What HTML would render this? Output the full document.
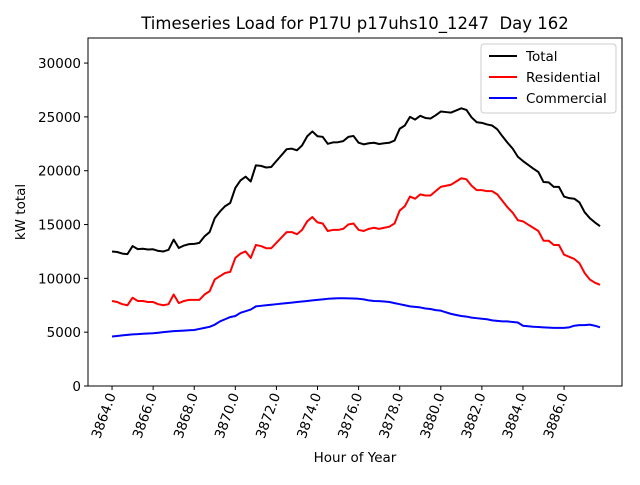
<!DOCTYPE html>
<html><head><meta charset="utf-8"><style>
body{margin:0;background:#fff;font-family:"Liberation Sans","DejaVu Sans",sans-serif;}
svg text{font-family:"DejaVu Sans","Liberation Sans",sans-serif;}
</style></head><body>
<svg id="chart" width="640" height="480" xmlns="http://www.w3.org/2000/svg">
<rect width="640" height="480" fill="#fff"/>
<text x="355" y="29" font-size="16.5" text-anchor="middle">Timeseries Load for P17U p17uhs10_1247&#160; Day 162</text>
<g id="grid"></g>
<g id="series"></g>
<rect x="88" y="38" width="534" height="348" fill="none" stroke="#000" stroke-width="1"/>
<text x="355" y="462" font-size="13.5" text-anchor="middle">Hour of Year</text>
<text transform="translate(25,212) rotate(-90)" font-size="13.5" text-anchor="middle">kW total</text>
<g>
<rect x="481" y="44" width="135" height="69" fill="#fff" fill-opacity="0.8" stroke="#ccc" rx="3"/>
<line x1="489" y1="56" x2="517" y2="56" stroke="#000" stroke-width="2"/>
<text x="526" y="61" font-size="13.5">Total</text>
<line x1="489" y1="77" x2="517" y2="77" stroke="red" stroke-width="2"/>
<text x="526" y="82" font-size="13.5">Residential</text>
<line x1="489" y1="98" x2="517" y2="98" stroke="blue" stroke-width="2"/>
<text x="526" y="103" font-size="13.5">Commercial</text>
</g>
</svg>
<script>
const startHour = 3864;
const stepHours = 0.25;
const residential = [7900,7800,7600,7500, 8200,7900,7900,7800, 7800,7600,7500,7600, 8500,7700,7900,8000,
 8000,8000,8500,8800, 9900,10200,10500,10600, 11900,12300,12500,11900, 13100,13000,12800,12800,
 13300,13800,14300,14300, 14100,14500,15300,15700, 15200,15100,14400,14500, 14500,14600,15000,15100,
 14500,14400,14600,14700, 14600,14700,14800,15100, 16300,16700,17600,17400, 17800,17700,17700,18100,
 18500,18600,18700,19000, 19300,19200,18600,18200, 18200,18100,18100,17800, 17200,16600,16100,15400,
 15300,15000,14700,14400, 13500,13500,13100,13100, 12200,12000,11800,11400, 10500,9900,9600,9400];
const commercial = [4600,4650,4700,4750, 4800,4820,4850,4880, 4900,4950,5000,5050, 5100,5120,5150,5180,
 5200,5300,5400,5500, 5700,6000,6200,6400, 6500,6800,6950,7100, 7400,7450,7500,7550,
 7600,7650,7700,7750, 7800,7850,7900,7950, 8000,8050,8100,8130, 8150,8150,8140,8130,
 8100,8050,7950,7900, 7880,7850,7800,7700, 7600,7500,7400,7350, 7300,7200,7150,7050,
 7000,6850,6700,6600, 6500,6450,6350,6300, 6250,6200,6100,6050, 6000,6000,5950,5900,
 5600,5550,5500,5480, 5450,5420,5400,5400, 5400,5450,5600,5650, 5650,5700,5600,5450];
const total = residential.map((r,i)=>r+commercial[i]);
const xTicks = [3864,3866,3868,3870,3872,3874,3876,3878,3880,3882,3884,3886];
const yTicks = [0,5000,10000,15000,20000,25000,30000];

const NS="http://www.w3.org/2000/svg";
const X0=88,X1=622,Y0=386,Y1=38;
const xMin=3862.83,xMax=3888.82,yMin=0,yMax=32330;
function xs(v){return X0+(v-xMin)/(xMax-xMin)*(X1-X0);}
function ys(v){return Y0-(v-yMin)/(yMax-yMin)*(Y0-Y1);}
const grid=document.getElementById('grid');
const ser=document.getElementById('series');
function mk(tag,attrs,parent){const e=document.createElementNS(NS,tag);for(const k in attrs)e.setAttribute(k,attrs[k]);parent.appendChild(e);return e;}
xTicks.forEach(t=>{
  const x=xs(t);
  const l=mk('line',{x1:x,y1:Y0,x2:x,y2:Y0+4,stroke:'#000'},grid);
  
  
  const tx=mk('text',{transform:`translate(${x+4},${Y0+9}) rotate(-70)`,'font-size':'13.5','text-anchor':'end'},grid);
  tx.textContent=t.toFixed(1);
  
  
});
yTicks.forEach(t=>{
  const y=ys(t);
  const l=mk('line',{x1:X0-4,y1:y,x2:X0,y2:y,stroke:'#000'},grid);
  
  
  const tx=mk('text',{x:X0-7,y:y+5,'font-size':'13.5','text-anchor':'end'},grid);
  tx.textContent=t;
  
  
});
function line(vals,color,name){
  const d=vals.map((v,i)=>(i?'L':'M')+xs(startHour+i*stepHours).toFixed(2)+','+ys(v).toFixed(2)).join('');
  const p=mk('path',{d:d,fill:'none',stroke:color,'stroke-width':2,'stroke-linejoin':'round'},ser);
  
  
}
line(total,'#000','total-line');
line(residential,'red','residential-line');
line(commercial,'blue','commercial-line');
</script>
</body></html>
